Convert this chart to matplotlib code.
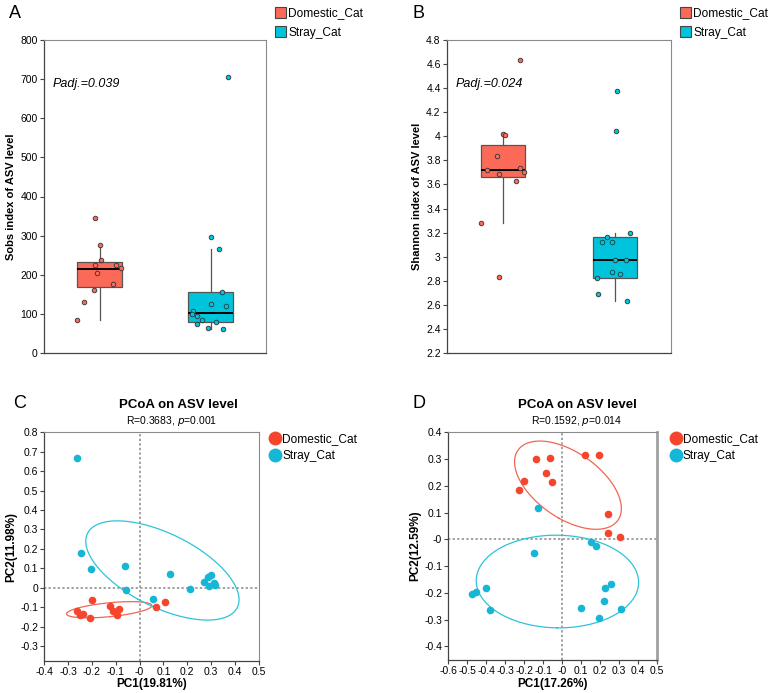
import numpy as np
import matplotlib
matplotlib.use("Agg")
import matplotlib.pyplot as plt
from matplotlib.patches import Patch
from matplotlib.lines import Line2D

plt.rcParams["font.family"] = ["Liberation Sans", "DejaVu Sans"]

groups = ["Domestic_Cat", "Stray_Cat"]

# ---- panel A: Sobs index ----
sobs_domestic = [345, 275, 238, 224, 226, 216, 204, 177, 161, 130, 84]
sobs_domestic_jitter = [-0.04, 0.005, 0.017, -0.04, 0.152, 0.19, -0.026, 0.12, -0.053, -0.143, -0.2]
sobs_stray = [706, 297, 266, 155, 124, 121, 107, 100, 95, 85, 78, 74, 65, 62]
sobs_stray_jitter = [0.158, 0.008, 0.074, 0.1, 0.0, 0.143, -0.155, -0.167, -0.122, -0.074, 0.05, -0.119, -0.023, 0.116]
# whislo, q1, median, q3, whishi
sobs_box = [[85, 169, 215, 232, 275], [62, 78, 103, 155, 265]]

# ---- panel B: Shannon index ----
shannon_domestic = [4.63, 4.02, 4.01, 3.84, 3.74, 3.72, 3.69, 3.70, 3.63, 3.28, 2.83]
shannon_domestic_jitter = [0.15, 0.004, 0.016, -0.052, 0.15, -0.14, -0.04, 0.19, 0.12, -0.194, -0.04]
shannon_stray = [4.38, 4.04, 3.20, 3.16, 3.12, 3.12, 2.97, 2.97, 2.875, 2.855, 2.82, 2.69, 2.63]
shannon_stray_jitter = [0.016, 0.007, 0.138, -0.073, -0.117, -0.025, 0.0, 0.096, -0.025, 0.046, -0.165, -0.156, 0.111]
shannon_box = [[3.28, 3.66, 3.72, 3.93, 4.02], [2.63, 2.82, 2.97, 3.16, 3.20]]

# ---- panel C: PCoA ----
pcoa_c_dom_x = [-0.200, -0.261, -0.250, -0.239, -0.209, -0.123, -0.113, -0.096, -0.085, 0.069, 0.105]
pcoa_c_dom_y = [-0.064, -0.117, -0.141, -0.134, -0.155, -0.095, -0.117, -0.138, -0.110, -0.098, -0.072]
pcoa_c_str_x = [-0.261, -0.247, -0.205, -0.061, -0.056, 0.128, 0.055, 0.213,
                0.272, 0.286, 0.300, 0.311, 0.290, 0.316]
pcoa_c_str_y = [0.666, 0.178, 0.096, 0.111, -0.011, 0.072, -0.059, -0.006,
                0.030, 0.054, 0.068, 0.025, 0.010, 0.015]

# ---- panel D: PCoA ----
pcoa_d_dom_x = [-0.140, -0.063, -0.087, -0.056, -0.200, -0.226, 0.118, 0.195, 0.242, 0.239, 0.305]
pcoa_d_dom_y = [0.300, 0.305, 0.249, 0.213, 0.219, 0.183, 0.316, 0.314, 0.095, 0.025, 0.007]
pcoa_d_str_x = [-0.129, 0.149, 0.177, -0.151, -0.400, -0.455, -0.475, -0.381,
                0.098, 0.195, 0.218, 0.225, 0.258, 0.311]
pcoa_d_str_y = [0.116, -0.011, -0.024, -0.052, -0.182, -0.198, -0.203, -0.263,
                -0.257, -0.293, -0.231, -0.181, -0.168, -0.261]

BOX_COLORS = ["#FB6A58", "#00C4DC"]
DOT_COLORS = ["#F5452D", "#16B6D6"]
ELL_COLORS = ["#F26552", "#2CC3D9"]


def style_frame(ax, right_color="#8a8a8a", right_lw=0.8):
    for side in ("left", "bottom"):
        ax.spines[side].set_color("#444444")
        ax.spines[side].set_linewidth(0.9)
    ax.spines["top"].set_color("#8a8a8a")
    ax.spines["top"].set_linewidth(0.8)
    ax.spines["right"].set_color(right_color)
    ax.spines["right"].set_linewidth(right_lw)
    ax.tick_params(axis="both", labelsize=7.5, length=3, width=0.8, color="#444444", pad=1.5)


def draw_box(ax, box_stats, values, jitters, ylim, yticks, ylabel, padj):
    stats = []
    for lo, q1, med, q3, hi in box_stats:
        stats.append(dict(whislo=lo, q1=q1, med=med, q3=q3, whishi=hi, fliers=[]))
    bp = ax.bxp(stats, positions=[1, 2], widths=0.4, patch_artist=True,
                showcaps=False, showfliers=False,
                boxprops=dict(edgecolor="#555555", linewidth=0.9),
                whiskerprops=dict(color="#555555", linewidth=0.9),
                medianprops=dict(color="black", linewidth=1.4))
    for patch, c in zip(bp["boxes"], BOX_COLORS):
        patch.set_facecolor(c)
    for i, (vals, jit) in enumerate(zip(values, jitters)):
        xs = np.array(jit) + (i + 1)
        ax.scatter(xs, vals, s=11, color=BOX_COLORS[i], edgecolor="#333333",
                   linewidth=0.6, zorder=3)
    ax.set_xlim(0.5, 2.5)
    ax.set_ylim(*ylim)
    ax.set_yticks(yticks)
    ax.yaxis.set_major_formatter(plt.FormatStrFormatter("%g"))
    ax.set_xticks([])
    ax.set_ylabel(ylabel, fontsize=8, fontweight="bold", labelpad=3)
    ax.text(0.04, 0.86, padj, transform=ax.transAxes, fontsize=9,
            style="italic", va="center", ha="left")
    style_frame(ax)
    handles = [Patch(facecolor=c, edgecolor="#444444", linewidth=0.8) for c in BOX_COLORS]
    ax.legend(handles, groups, loc="upper left", bbox_to_anchor=(1.04, 1.105),
              frameon=False, fontsize=8.6, handlelength=0.95, handleheight=1.0,
              handletextpad=0.15, labelspacing=0.55, borderaxespad=0, borderpad=0)


def cov_ellipse(x, y, level=0.65, n=240):
    x = np.asarray(x)
    y = np.asarray(y)
    cov = np.cov(x, y)
    r = np.sqrt(-2 * np.log(1 - level))
    vals, vecs = np.linalg.eigh(cov)
    t = np.linspace(0, 2 * np.pi, n)
    circ = np.vstack([np.cos(t), np.sin(t)])
    pts = vecs @ (np.sqrt(vals)[:, None] * circ) * r
    return x.mean() + pts[0], y.mean() + pts[1]


def draw_pcoa(ax, xs, ys, xlim, ylim, xticks, yticks, xlabel, ylabel, right_color, right_lw,
              legend_x):
    ax.axhline(0, color="#888888", linestyle=(0, (1.5, 1.5)), linewidth=1.1, zorder=1)
    ax.axvline(0, color="#888888", linestyle=(0, (1.5, 1.5)), linewidth=1.1, zorder=1)
    for i in range(2):
        ex, ey = cov_ellipse(xs[i], ys[i])
        ax.plot(ex, ey, color=ELL_COLORS[i], linewidth=0.9, zorder=2)
    for i in range(2):
        ax.scatter(xs[i], ys[i], s=30, color=DOT_COLORS[i], linewidth=0, zorder=3)
    ax.set_xlim(*xlim)
    ax.set_ylim(*ylim)
    ax.set_xticks(xticks)
    ax.set_yticks(yticks)
    ax.xaxis.set_major_formatter(plt.FormatStrFormatter("%g"))
    ax.yaxis.set_major_formatter(plt.FormatStrFormatter("%g"))
    ax.set_xlabel(xlabel, fontsize=8.5, fontweight="bold", labelpad=1)
    ax.set_ylabel(ylabel, fontsize=8.5, fontweight="bold", labelpad=2)
    style_frame(ax, right_color, right_lw)
    handles = [Line2D([], [], marker="o", linestyle="", markersize=10,
                      markerfacecolor=c, markeredgewidth=0) for c in DOT_COLORS]
    ax.legend(handles, groups, loc="upper left", bbox_to_anchor=(legend_x, 0.995),
              frameon=False, fontsize=8.6, handlelength=0.8, handletextpad=0.2,
              labelspacing=0.4, borderaxespad=0, borderpad=0)


fig = plt.figure(figsize=(7.68, 6.93), dpi=100)
W, H = 768.0, 693.0


def add_axes_px(left, top, right, bottom):
    return fig.add_axes([left / W, 1 - bottom / H, (right - left) / W, (bottom - top) / H])


ax_a = add_axes_px(44, 40, 266, 353)
ax_b = add_axes_px(447, 40, 671, 353)
ax_c = add_axes_px(44.3, 432.3, 258.7, 660.7)
ax_d = add_axes_px(448.3, 432.3, 657.3, 660)

draw_box(ax_a, sobs_box, [sobs_domestic, sobs_stray],
         [sobs_domestic_jitter, sobs_stray_jitter],
         (0, 800), np.arange(0, 801, 100), "Sobs index of ASV level", "Padj.=0.039")
draw_box(ax_b, shannon_box, [shannon_domestic, shannon_stray],
         [shannon_domestic_jitter, shannon_stray_jitter],
         (2.2, 4.8), np.round(np.arange(2.2, 4.81, 0.2), 1), "Shannon index of ASV level",
         "Padj.=0.024")

draw_pcoa(ax_c, [pcoa_c_dom_x, pcoa_c_str_x], [pcoa_c_dom_y, pcoa_c_str_y],
          (-0.4, 0.5), (-0.375, 0.8), np.round(np.arange(-0.4, 0.51, 0.1), 1),
          np.round(np.arange(-0.3, 0.81, 0.1), 1), "PC1(19.81%)", "PC2(11.98%)",
          "#8a8a8a", 0.8, 1.055)
draw_pcoa(ax_d, [pcoa_d_dom_x, pcoa_d_str_x], [pcoa_d_dom_y, pcoa_d_str_y],
          (-0.6, 0.5), (-0.451, 0.4), np.round(np.arange(-0.6, 0.51, 0.1), 1),
          np.round(np.arange(-0.4, 0.41, 0.1), 1), "PC1(17.26%)", "PC2(12.59%)",
          "#a0a0a0", 2.0, 1.065)

# titles above the PCoA panels
fig.text(178 / W, 1 - 405 / H, "PCoA on ASV level", fontsize=9.5, fontweight="bold",
         ha="center", va="center")
fig.text(172 / W, 1 - 421 / H, "R=0.3683, $\\it{p}$=0.001", fontsize=7.5,
         ha="center", va="center")
fig.text(577 / W, 1 - 405 / H, "PCoA on ASV level", fontsize=9.5, fontweight="bold",
         ha="center", va="center")
fig.text(577 / W, 1 - 421 / H, "R=0.1592, $\\it{p}$=0.014", fontsize=7.5,
         ha="center", va="center")

# panel letters
for letter, x, y in [("A", 9, 13), ("B", 412, 13), ("C", 13, 404), ("D", 413, 404)]:
    fig.text(x / W, 1 - y / H, letter, fontsize=13, ha="left", va="center")

fig.savefig("out.png", dpi=100)
